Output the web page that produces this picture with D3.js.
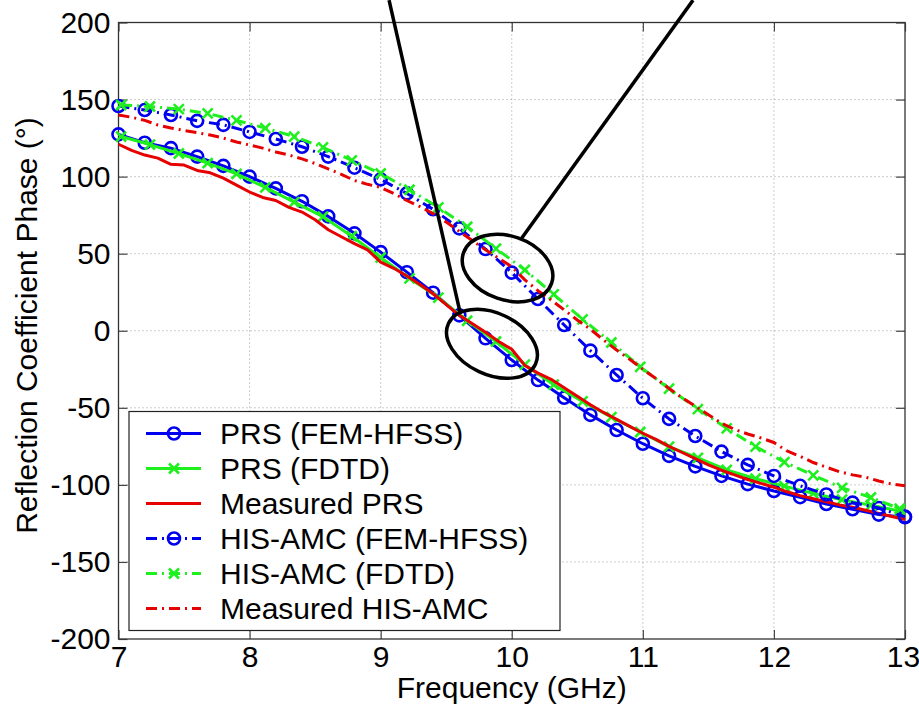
<!DOCTYPE html>
<html>
<head>
<meta charset="utf-8">
<script src="https://cdn.jsdelivr.net/npm/d3@7/dist/d3.min.js"></script>
<style>
  html, body { margin: 0; padding: 0; background: #fff; }
  svg { display: block; font-family: "Liberation Sans", Arial, Helvetica, sans-serif; }
</style>
</head>
<body>
<svg id="chart" width="919" height="712"></svg>
<script>
// Frequency grids (GHz)
const freqHFSS = [7.0, 7.2, 7.4, 7.6, 7.8, 8.0, 8.2, 8.4, 8.6, 8.8, 9.0, 9.2, 9.4, 9.6, 9.8,
  10.0, 10.2, 10.4, 10.6, 10.8, 11.0, 11.2, 11.4, 11.6, 11.8, 12.0, 12.2, 12.4, 12.6, 12.8, 13.0];
const freqFDTD = [7.02, 7.24, 7.46, 7.68, 7.90, 8.12, 8.34, 8.56, 8.78, 9.00, 9.22, 9.44, 9.66, 9.88,
  10.10, 10.32, 10.54, 10.76, 10.98, 11.20, 11.42, 11.64, 11.86, 12.08, 12.30, 12.52, 12.74, 12.96];
const freqMeas = [7.0, 7.1, 7.2, 7.3, 7.4, 7.5, 7.6, 7.7, 7.8, 7.9, 8.0, 8.1, 8.2, 8.3, 8.4, 8.5, 8.6, 8.7, 8.8, 8.9,
  9.0, 9.1, 9.2, 9.3, 9.4, 9.5, 9.6, 9.7, 9.8, 9.9, 10.0, 10.1, 10.2, 10.3, 10.4, 10.5, 10.6, 10.7, 10.8, 10.9,
  11.0, 11.1, 11.2, 11.3, 11.4, 11.5, 11.6, 11.7, 11.8, 11.9, 12.0, 12.1, 12.2, 12.3, 12.4, 12.5, 12.6, 12.7, 12.8, 12.9, 13.0];

// Reflection phase (degrees)
const prsHFSS = [127.4, 122, 118.5, 113, 107, 100, 92.4, 84, 74.2, 63.2, 51, 38, 24.7, 10, -4.9,
  -19, -32, -43.5, -54.6, -64.4, -73.3, -81.2, -88, -94.2, -99.5, -104, -108, -112.4, -115.8, -119.3, -121];
const prsFDTD = [126, 120.8, 115, 108.8, 101.8, 93, 83.5, 74, 61.3, 47.5, 34, 21.5, 6.5, -7,
  -22, -35, -45.8, -56, -65.7, -75.2, -82.5, -90.3, -96, -100.8, -105.5, -109.6, -113.2, -117];
const prsMeas = [121, 117, 114, 112, 108, 107.5, 104, 102.5, 99, 94.5, 90, 86.5, 84.5, 80, 77, 72, 65.5, 61, 56.5, 52.5,
  44.5, 40.5, 35.5, 30, 24, 17, 10, 4.5, -1, -7, -12, -22.5, -27.5, -31.5, -37, -42.5, -48, -53, -57.5, -62,
  -66.5, -70.5, -75, -79, -83, -87, -90.5, -93.5, -96.5, -99, -101.5, -104.5, -107, -109, -111, -113, -114.5, -116.5, -118.5, -120.5, -122.5];
const hisHFSS = [145.8, 143.2, 140, 136.2, 133.6, 129, 124.4, 119.4, 113, 105.8, 98.2, 89.1, 78.8, 66.4, 53,
  37.7, 20.6, 3.7, -12.9, -28.7, -43.8, -57.2, -68.3, -78.4, -87, -94.2, -100.6, -106.2, -111.5, -115, -120.6];
const hisFDTD = [146.5, 145.5, 143.8, 141, 136.5, 131.5, 126, 119, 110.5, 102, 91.5, 80, 67.5, 53.3,
  39.5, 23.6, 7.4, -7.6, -23.4, -37.6, -50.8, -63.3, -75.2, -85.2, -93.8, -101.9, -108.2, -115.5];
const hisMeas = [140, 138.5, 136.5, 133.5, 131.5, 130, 128.5, 127, 125, 122.5, 120.5, 118.5, 116, 114, 111.5, 108.5, 105, 101.5, 97.5, 95,
  93, 89, 84.5, 80.5, 76, 70.5, 64.5, 58.5, 52.5, 47, 41.5, 33, 26, 20, 13.5, 7, 1, -6, -12.5, -18.5,
  -25, -31, -37.5, -43.5, -49, -54.5, -60, -64, -67, -69.5, -72.5, -78, -81.5, -85.5, -88.5, -91.5, -93.5, -95, -97.5, -99.5, -100.5];

// Axis ticks
const xTicks = [7, 8, 9, 10, 11, 12, 13];
const yTicks = [-200, -150, -100, -50, 0, 50, 100, 150, 200];

// Series labels, in plotting order
const seriesNames = ["PRS (FEM-HFSS)", "PRS (FDTD)", "Measured PRS",
  "HIS-AMC (FEM-HFSS)", "HIS-AMC (FDTD)", "Measured HIS-AMC"];

// Callout ellipses (centre in GHz / degrees) and leader lines
const calloutCentreF = [9.968, 9.849];
const calloutCentreV = [40.7, -8.5];
const leaderStartF = [9.064, 11.383];
const leaderStartV = [214.5, 214.5];
const leaderEndF = [9.605, 10.074];
const leaderEndV = [12.2, 59.8];

const BLUE = "#0000f0", GREEN = "#1ef01e", RED = "#e60000";
const DASHDOT = "11,5,2,5";

const series = [
  { name: seriesNames[0], f: freqHFSS, v: prsHFSS, color: BLUE, dash: null, marker: "o" },
  { name: seriesNames[1], f: freqFDTD, v: prsFDTD, color: GREEN, dash: null, marker: "x" },
  { name: seriesNames[2], f: freqMeas, v: prsMeas, color: RED, dash: null, marker: null },
  { name: seriesNames[3], f: freqHFSS, v: hisHFSS, color: BLUE, dash: DASHDOT, marker: "o" },
  { name: seriesNames[4], f: freqFDTD, v: hisFDTD, color: GREEN, dash: DASHDOT, marker: "x" },
  { name: seriesNames[5], f: freqMeas, v: hisMeas, color: RED, dash: DASHDOT, marker: null }
];

const svg = d3.select("#chart");
const pL = 118.5, pR = 905, pT = 22.5, pB = 639;
const x = d3.scaleLinear().domain([7, 13]).range([pL, pR]);
const y = d3.scaleLinear().domain([-200, 200]).range([pB, pT]);
const FONT = 30;
const plainNum = d => String(d);   // ASCII hyphen for negatives

// Grid
const grid = svg.append("g").attr("stroke", "#9a9a9a").attr("stroke-width", 1)
  .attr("stroke-dasharray", "1,3");
grid.selectAll("line.gx").data(xTicks.slice(1, -1)).join("line")
  .attr("x1", d => x(d)).attr("x2", d => x(d)).attr("y1", pT).attr("y2", pB);
grid.selectAll("line.gy").data(yTicks.slice(1, -1)).join("line")
  .attr("y1", d => y(d)).attr("y2", d => y(d)).attr("x1", pL).attr("x2", pR);

// Axes with inward ticks
function styleAxis(g) {
  g.attr("font-family", null).attr("font-size", null);
  g.select(".domain").remove();
  g.selectAll(".tick line").attr("stroke", "#444").attr("stroke-width", 1.2);
  g.selectAll(".tick text").attr("fill", "#000").style("font-size", FONT + "px");
}
const xAxisG = svg.append("g").attr("transform", `translate(0,${pB})`)
  .call(d3.axisBottom(x).tickValues(xTicks).tickSizeInner(-9).tickSizeOuter(0).tickPadding(7)
    .tickFormat(plainNum))
  .call(styleAxis);
// keep the last label inside the page edge
xAxisG.selectAll(".tick text").filter(d => d === 13).attr("dx", -2);
svg.append("g").attr("transform", `translate(${pL},0)`)
  .call(d3.axisLeft(y).tickValues(yTicks).tickSizeInner(-9).tickSizeOuter(0).tickPadding(8)
    .tickFormat(plainNum))
  .call(styleAxis);
svg.append("g").attr("transform", `translate(0,${pT})`)
  .call(d3.axisTop(x).tickValues(xTicks).tickSizeInner(-9).tickSizeOuter(0).tickFormat(""))
  .call(styleAxis);
svg.append("g").attr("transform", `translate(${pR},0)`)
  .call(d3.axisRight(y).tickValues(yTicks).tickSizeInner(-9).tickSizeOuter(0).tickFormat(""))
  .call(styleAxis);

// Plot frame
svg.append("rect").attr("x", pL).attr("y", pT).attr("width", pR - pL).attr("height", pB - pT)
  .attr("fill", "none").attr("stroke", "#333").attr("stroke-width", 1.3);

// Curves
svg.append("clipPath").attr("id", "plotclip").append("rect")
  .attr("x", pL - 8).attr("y", pT).attr("width", pR - pL + 16).attr("height", pB - pT);
const plot = svg.append("g").attr("clip-path", "url(#plotclip)");
const line = d3.line().x(d => x(d[0])).y(d => y(d[1]));

function drawMarker(g, type, color) {
  if (type === "o") {
    g.append("circle").attr("r", 6).attr("fill", "none").attr("stroke", color).attr("stroke-width", 2.6);
  } else if (type === "x") {
    g.append("path").attr("d", "M-5,-5L5,5M-5,5L5,-5").attr("fill", "none")
      .attr("stroke", color).attr("stroke-width", 2.6);
  }
}

series.forEach(s => {
  const pts = s.f.map((f, i) => [f, s.v[i]]);
  plot.append("path").datum(pts).attr("d", line).attr("fill", "none")
    .attr("stroke", s.color).attr("stroke-width", 3)
    .attr("stroke-dasharray", s.dash).attr("stroke-linejoin", "round");
  if (s.marker) {
    plot.append("g").selectAll("g").data(pts).join("g")
      .attr("transform", d => `translate(${x(d[0])},${y(d[1])})`)
      .each(function () { drawMarker(d3.select(this), s.marker, s.color); });
  }
});

// Callouts
const ann = svg.append("g").attr("fill", "none").attr("stroke", "#000").attr("stroke-width", 3.5);
const ellRx = [46.6, 48], ellRy = [31.9, 30.7], ellRot = [19, 25];
calloutCentreF.forEach((f, i) => {
  ann.append("ellipse").attr("rx", ellRx[i]).attr("ry", ellRy[i])
    .attr("transform", `translate(${x(f)},${y(calloutCentreV[i])}) rotate(${ellRot[i]})`);
});
leaderStartF.forEach((f, i) => {
  ann.append("line").attr("x1", x(f)).attr("y1", y(leaderStartV[i]))
    .attr("x2", x(leaderEndF[i])).attr("y2", y(leaderEndV[i]));
});

// Legend
const lg = svg.append("g");
lg.append("rect").attr("x", 129).attr("y", 411.5).attr("width", 431).attr("height", 219)
  .attr("fill", "#fff").attr("stroke", "#222").attr("stroke-width", 1.2);
series.forEach((s, i) => {
  const ry = 433.5 + i * 35;
  const row = lg.append("g");
  row.append("line").attr("x1", 146).attr("x2", 201).attr("y1", ry).attr("y2", ry)
    .attr("stroke", s.color).attr("stroke-width", 3).attr("stroke-dasharray", s.dash);
  if (s.marker) {
    const m = row.append("g").attr("transform", `translate(174,${ry})`);
    drawMarker(m, s.marker, s.color);
  }
  row.append("text").attr("x", 220).attr("y", ry + 10.5).attr("font-size", FONT).attr("fill", "#000")
    .text(s.name);
});

// Axis titles
svg.append("text").attr("x", (pL + pR) / 2).attr("y", 698).attr("text-anchor", "middle")
  .attr("font-size", FONT).text("Frequency (GHz)");
svg.append("text").attr("transform", "translate(37,325.5) rotate(-90)").attr("text-anchor", "middle")
  .attr("font-size", FONT).text("Reflection Coefficient Phase (°)");
</script>
</body>
</html>
